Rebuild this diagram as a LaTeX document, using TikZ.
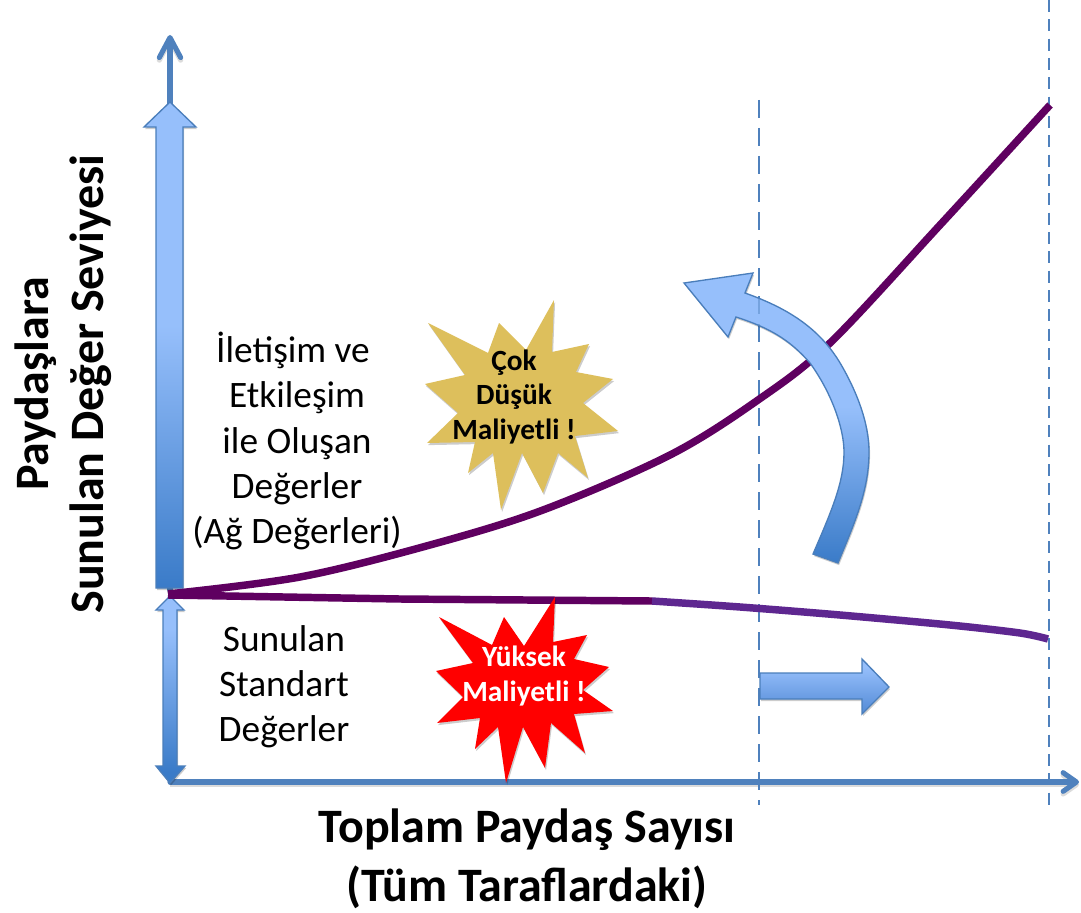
\documentclass[tikz,border=0pt]{standalone}
\usepackage{fontspec}
\setmainfont{Carlito}
\usetikzlibrary{arrows.meta,shadows,calc}
\definecolor{axisblue}{HTML}{4F81BD}
\definecolor{edgeblue}{HTML}{4A7EBB}
\definecolor{lightblue}{HTML}{96BFFB}
\definecolor{darkblue}{HTML}{3A7BC8}
\definecolor{midblue}{HTML}{5A90DA}
\definecolor{plum}{HTML}{5F0060}
\definecolor{violetline}{HTML}{5E2790}
\definecolor{goldstar}{HTML}{DDBF5C}
\pgfdeclareverticalshading{tallgrad}{100bp}{color(0bp)=(darkblue);color(25bp)=(darkblue);color(52bp)=(lightblue);color(75bp)=(lightblue);color(100bp)=(lightblue)}
\pgfdeclareverticalshading{shortgrad}{100bp}{color(0bp)=(darkblue);color(28bp)=(darkblue);color(66bp)=(lightblue);color(100bp)=(lightblue)}
\pgfdeclareverticalshading{flatgrad}{100bp}{color(0bp)=(midblue);color(30bp)=(midblue);color(68bp)=(lightblue);color(100bp)=(lightblue)}
\tikzset{
  softshadow/.style={drop shadow={shadow xshift=.8pt,shadow yshift=-1.6pt,opacity=.2,fill=black}},
  blockarrow/.style={draw=edgeblue,line width=1pt,line join=miter,softshadow},
  axisline/.style={draw=axisblue,line width=3.8pt,line cap=round,
     preaction={draw=black,opacity=.14,transform canvas={yshift=-2pt},line width=3.8pt}},
  guide/.style={draw=axisblue,line width=2pt},
  curveline/.style={draw=plum,line width=5.6pt,line cap=butt,line join=round},
  sidelabel/.style={font=\fontsize{28}{33.8}\selectfont,align=center,text=black,inner sep=0pt},
  axislabel/.style={font=\fontsize{36}{44.5}\selectfont\bfseries,align=center,text=black,inner sep=0pt},
  starlabel/.style={font=\fontsize{22}{26}\selectfont\bfseries,align=center,inner sep=0pt},
  starshape/.style={draw=none,softshadow}
}
\begin{document}
\begin{tikzpicture}[x=.75pt,y=-.75pt]
\useasboundingbox (0,0) rectangle (1081,913);
\fill[white] (0,0) rectangle (1081,913);
\coordinate (origin) at (170,782);
\coordinate (ytip) at (170,35);
\coordinate (ybase) at (170,590);
\coordinate (xtip) at (1079,782);
\coordinate (guideAtop) at (759,100);
\coordinate (guideAbot) at (759,805);
\coordinate (guideBtop) at (1049,0);
\coordinate (guideBbot) at (1049,805);

% axes
\draw[axisline,-{Straight Barb[length=15pt,width=16pt,line width=3.8pt,round]}] (ybase) -- (ytip);
\draw[axisline,-{Straight Barb[length=10pt,width=14pt,line width=3.8pt,round]}] (origin) -- (xtip);

% guides
\draw[guide,dash pattern=on 13.5pt off 7.5pt] (guideAtop) -- (guideAbot);
\draw[guide,dash pattern=on 9pt off 5.5pt] (guideBtop) -- (guideBbot);

% tall block arrow
\path[blockarrow,shading=tallgrad,draw=edgeblue]
  (170,102) -- (196,127) -- (183,127) -- (183,588) -- (156,588) -- (156,127) -- (144,127) -- cycle;
% short double arrow
\path[blockarrow,shading=shortgrad,draw=edgeblue]
  (170,596) -- (184,610) -- (177,610) -- (177,766) -- (185,766) -- (170,783) -- (156,766) -- (163,766) -- (163,610) -- (156,610) -- cycle;

% purple curves
\draw[curveline] plot[smooth,tension=.55] coordinates {(168,594) (300,577) (430,545) (543,510) (670,455) (758,400) (830,343) (940,225) (1050,105)};
\draw[curveline] (168,595) -- (400,599) -- (652,601);
\draw[curveline,draw=violetline] plot[smooth,tension=.5] coordinates {(652,601) (740,607) (840,615) (950,625) (1020,633) (1048,639)};

% bent arrow
\path[blockarrow,shading=tallgrad,draw=edgeblue]
  (684,283) -- (753,273) -- (745,293)
  .. controls (790,309) and (822,330) .. (843,368)
  .. controls (862,402) and (869,430) .. (869,452)
  .. controls (869,490) and (855,522) .. (838,563)
  -- (813,554)
  .. controls (832,510) and (844,482) .. (844,452)
  .. controls (844,430) and (833,395) .. (810,363)
  .. controls (790,340) and (770,328) .. (736,317)
  -- (728,337) -- cycle;
\begin{scope}
\clip (684,283) -- (753,273) -- (745,293)
  .. controls (790,309) and (822,330) .. (843,368)
  .. controls (862,402) and (869,430) .. (869,452)
  .. controls (869,490) and (855,522) .. (838,563)
  -- (813,554)
  .. controls (832,510) and (844,482) .. (844,452)
  .. controls (844,430) and (833,395) .. (810,363)
  .. controls (790,340) and (770,328) .. (736,317)
  -- (728,337) -- cycle;
\draw[guide,opacity=.45,dash pattern=on 13.5pt off 7.5pt] (guideAtop) -- (guideAbot);
\end{scope}

% flat arrow
\path[blockarrow,shading=flatgrad,draw=edgeblue]
  (760,673) -- (862,673) -- (862,659) -- (889,687) -- (862,714) -- (862,699) -- (760,699) -- cycle;

% stars
\fill[goldstar,starshape]
  (554,300) -- (552,352) -- (589,344) -- (576,372) -- (613,379) -- (583,403) -- (618,431) -- (575,436) -- (588,478) -- (558,453) -- (543,493) -- (522,453) -- (501,510) -- (493,453) -- (468,473) -- (475,442) -- (427,443) -- (458,413) -- (425,384) -- (465,375) -- (428,323) -- (488,353) -- (499,323) -- (526,350) -- cycle;
\fill[red,starshape]
  (555,597) -- (553,642) -- (587,635) -- (574,659) -- (609,667) -- (583,690) -- (613,711) -- (574,714) -- (585,753) -- (551,723) -- (545,768) -- (523,727) -- (506,783) -- (498,727) -- (475,749) -- (480,718) -- (437,723) -- (463,697) -- (436,671) -- (473,663) -- (439,617) -- (492,645) -- (504,617) -- (524,646) -- cycle;

% text
\node[sidelabel] (netvalues) at (297,441) {İletişim ve\hspace*{6pt}\\Etkileşim\hspace*{6pt}\\ile Oluşan\\Değerler\\(Ağ Değerleri)};
\node[sidelabel] (stdvalues) at (284,687) {Sunulan\\Standart\hspace*{4pt}\\Değerler};
\node[axislabel,rotate=90,font=\fontsize{36}{41}\selectfont\bfseries] (ylabel) at (63,384) {Paydaşlara\\Sunulan Değer Seviyesi};
\node[axislabel] (xlabel) at (527,859) {Toplam Paydaş Sayısı\\(Tüm Taraflardaki)};
\node[starlabel,text=black] (goldtext) at (514,397) {Çok\\Düşük\\Maliyetli !};
\node[starlabel,text=white] (redtext) at (524,676) {Yüksek\\Maliyetli !};
\end{tikzpicture}
\end{document}
